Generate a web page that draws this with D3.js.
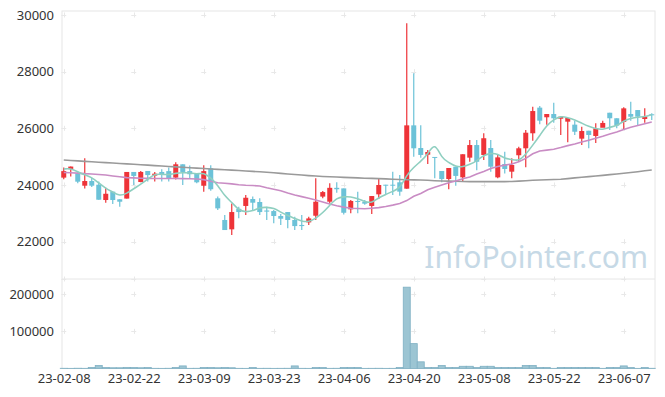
<!DOCTYPE html>
<html>
<head>
<meta charset="utf-8">
<script src="https://cdn.jsdelivr.net/npm/d3@7"></script>
<style>
  body { margin: 0; background: #fff; }
  svg { display: block; font-family: "Noto Sans", sans-serif; }
</style>
</head>
<body>
<div id="chart"></div>
<script>
// Trading days (yy-mm-dd)
const dates = [
  "23-02-08","23-02-09","23-02-10","23-02-13","23-02-14","23-02-15","23-02-16","23-02-17","23-02-20","23-02-21",
  "23-02-22","23-02-23","23-02-24","23-02-27","23-02-28","23-03-02","23-03-03","23-03-06","23-03-07","23-03-08",
  "23-03-09","23-03-10","23-03-13","23-03-14","23-03-15","23-03-16","23-03-17","23-03-20","23-03-21","23-03-22",
  "23-03-23","23-03-24","23-03-27","23-03-28","23-03-29","23-03-30","23-03-31","23-04-03","23-04-04","23-04-05",
  "23-04-06","23-04-07","23-04-10","23-04-11","23-04-12","23-04-13","23-04-14","23-04-17","23-04-18","23-04-19",
  "23-04-20","23-04-21","23-04-24","23-04-25","23-04-26","23-04-27","23-04-28","23-05-02","23-05-03","23-05-04",
  "23-05-08","23-05-09","23-05-10","23-05-11","23-05-12","23-05-15","23-05-16","23-05-17","23-05-18","23-05-19",
  "23-05-22","23-05-23","23-05-24","23-05-25","23-05-26","23-05-30","23-05-31","23-06-01","23-06-02","23-06-05",
  "23-06-07","23-06-08","23-06-09","23-06-12","23-06-13"
];

const open = [
  24260,24560,24410,23975,24140,24010,23470,23765,23495,23520,
  24460,24105,24495,24330,24460,24490,24260,24730,24490,24410,
  23975,24590,23530,22765,22435,23160,23260,23505,23400,23100,
  23080,22905,23045,22765,22590,22680,22915,23590,23410,23900,
  23880,23140,23435,23410,23260,23670,24010,24010,24095,23870,
  26105,25305,25070,24990,24495,24210,24645,24270,24965,25410,
  25060,25305,24270,24740,24470,25050,25295,25825,26730,26390,
  26505,26340,26235,26130,25635,25915,25730,26020,26550,26355,
  26225,26505,26645,26330,26495
];
const high = [
  24620,24650,24470,24940,24250,24120,23900,23770,23500,24460,
  24460,24490,24495,24460,24560,24620,24800,24730,24690,24410,
  24700,24700,23590,22940,23350,23235,23650,23590,23530,23235,
  23120,22980,23050,22880,22940,22880,24235,23790,24060,24095,
  23880,23470,23765,23470,23610,24210,24010,24470,24350,29705,
  27940,26105,25235,24990,24495,24600,24645,25085,25590,25590,
  25825,25590,25060,25175,24940,25350,25940,26765,26790,26505,
  26905,26410,26365,26270,26060,25915,26175,26270,26550,26355,
  26740,26940,26645,26705,26530
];
const low = [
  24200,24300,24060,23880,23930,23480,23375,23330,23235,23520,
  24000,24100,24120,24120,24120,24120,24190,24000,24240,24060,
  23765,23800,23120,22410,22235,22825,22940,23120,22940,22765,
  22650,22590,22470,22410,22410,22590,22765,23530,23350,23730,
  22960,23000,23000,23300,22980,23505,23645,23645,23620,23870,
  25000,24965,24740,24235,24095,23850,23975,24140,24820,24520,
  24880,24470,24235,24410,24235,24820,24625,25565,26140,26130,
  26200,25765,25505,25765,25410,25295,25480,26050,25940,26000,
  25940,26270,26080,26200,26295
];
const close = [
  24490,24650,24117,24140,23975,23480,23690,23470,23410,24460,
  24320,24460,24350,24400,24350,24240,24730,24460,24380,24095,
  24490,23850,23175,22410,23045,23045,23550,23375,23045,23060,
  22905,22810,22765,22550,22550,22820,23410,23750,23900,23850,
  23020,23435,23400,23340,23610,24000,23975,23975,23765,26105,
  25295,25060,25165,24955,24210,24600,24320,25085,25410,24820,
  25650,24645,24975,24565,24705,25295,25845,26610,26270,26505,
  26355,26410,26365,25880,25905,25765,26000,26190,26355,26095,
  26705,26410,26410,26410,26470
];
const volume = [
  600,400,700,500,3000,8000,2500,2000,2000,3000,
  2500,2000,2500,500,400,600,2500,7000,500,600,
  2500,2500,2000,2500,2000,500,400,2500,500,600,
  400,500,600,7000,500,400,2500,2500,500,600,
  2500,2500,2500,400,500,600,400,500,2500,219000,
  67000,18000,2500,2500,8000,2500,2500,6000,6000,2500,
  6000,6000,2500,2500,2500,2500,8000,8000,2500,2500,
  500,2500,2500,2500,2500,2500,2500,500,2500,2500,
  7000,2500,400,2500,600
];

// Moving averages as drawn
const ma5 = [
  24565,24590,24470,24350,24274,24072,23880,23751,23605,23702,
  23870,24024,24200,24398,24376,24360,24414,24436,24432,24381,
  24431,24255,23998,23604,23394,23105,23045,23085,23212,23215,
  23187,23039,22917,22818,22716,22699,22819,23016,23286,23546,
  23586,23591,23521,23409,23361,23557,23665,23780,23865,24364,
  24623,24840,25078,25516,24937,24798,24650,24634,24725,24847,
  25057,25122,25100,24931,24908,24837,25077,25404,25745,26105,
  26317,26430,26381,26303,26183,26065,25983,25948,26043,26081,
  26269,26351,26395,26406,26481
];
const ma20 = [
  24440,24430,24420,24400,24390,24370,24350,24320,24290,24260,
  24250,24240,24235,24230,24230,24230,24230,24225,24220,24210,
  24190,24130,24080,24060,24040,24010,23990,23980,23965,23900,
  23850,23800,23720,23650,23590,23530,23470,23400,23330,23270,
  23220,23180,23170,23160,23180,23200,23240,23290,23350,23450,
  23600,23700,23830,23920,24000,24080,24140,24220,24280,24390,
  24480,24580,24650,24700,24740,24820,24940,25100,25200,25230,
  25260,25320,25390,25450,25520,25580,25650,25720,25800,25870,
  25960,26040,26100,26160,26220
];
const ma120 = [
  24880,24865,24850,24835,24820,24805,24790,24775,24760,24745,
  24730,24715,24700,24685,24670,24655,24640,24625,24610,24595,
  24580,24565,24550,24540,24525,24510,24495,24480,24465,24450,
  24430,24410,24390,24370,24350,24330,24315,24300,24290,24280,
  24270,24260,24250,24240,24235,24225,24215,24205,24195,24185,
  24180,24175,24165,24150,24140,24135,24130,24125,24120,24120,
  24120,24120,24120,24120,24125,24135,24150,24165,24175,24185,
  24195,24205,24225,24250,24275,24295,24318,24340,24365,24390,
  24415,24440,24470,24500,24530
];

const priceTicks = [22000, 24000, 26000, 28000, 30000];
const volTicks = [100000, 200000];
const dateTicks = [0, 10, 20, 30, 40, 50, 60, 70, 80];

// LAYOUT ----------------------------------------
const W = 665, H = 397;
const left = 62, right = 655;
const pTop = 11, pBottom = 279, vBottom = 368.5;

const upColor = "#ee3338", downColor = "#6cc2d8";

const x = d3.scaleLinear().domain([0, dates.length - 1]).range([63.75, 651.75]);
const y = d3.scaleLinear().domain([20682, 30141]).range([pBottom, pTop]);
const yv = d3.scaleLinear().domain([0, 241000]).range([vBottom, pBottom]);

const svg = d3.select("#chart").append("svg")
    .attr("width", W).attr("height", H);

// frame
const frame = svg.append("g").attr("stroke", "#e6e6e6").attr("fill", "none");
frame.append("rect").attr("x", left).attr("y", pTop).attr("width", right - left).attr("height", vBottom - pTop);
frame.append("line").attr("x1", left).attr("x2", right).attr("y1", pBottom).attr("y2", pBottom);

// grid crosses
const gridX = dateTicks.map(i => x(i));
const crossY = priceTicks.map(v => y(v)).concat(volTicks.map(v => yv(v)), [pBottom]);
const grid = svg.append("g").attr("stroke", "#e8e8e8").attr("stroke-width", 1);
crossY.forEach(cy => {
    gridX.forEach(cx => {
        grid.append("line").attr("x1", cx - 2.5).attr("x2", cx + 2.5).attr("y1", Math.round(cy) + 0.5).attr("y2", Math.round(cy) + 0.5);
        grid.append("line").attr("x1", Math.round(cx) + 0.5).attr("x2", Math.round(cx) + 0.5).attr("y1", cy - 2.5).attr("y2", cy + 2.5);
    });
});

// watermark
svg.append("text")
    .attr("x", 648).attr("y", 268)
    .attr("text-anchor", "end")
    .attr("font-size", 30)
    .attr("fill", "#c6d9e6")
    .text("InfoPointer.com");

// volume bars
svg.append("g").selectAll("rect")
    .data(volume)
    .join("rect")
    .attr("x", (d, i) => x(i) - 3.5)
    .attr("width", 7)
    .attr("y", d => yv(d))
    .attr("height", d => vBottom - yv(d))
    .attr("fill", "#9cc5d3")
    .attr("stroke", "#7fb0c3")
    .attr("stroke-width", 0.8);

// candles
const candles = svg.append("g").selectAll("g")
    .data(dates.map((d, i) => ({i, o: open[i], h: high[i], l: low[i], c: close[i]})))
    .join("g")
    .attr("fill", d => d.c >= d.o ? upColor : downColor)
    .attr("stroke", d => d.c >= d.o ? upColor : downColor);

candles.append("line")
    .attr("x1", d => x(d.i)).attr("x2", d => x(d.i))
    .attr("y1", d => y(d.h)).attr("y2", d => y(d.l))
    .attr("stroke-width", 1.2);

candles.append("rect")
    .attr("x", d => x(d.i) - 2.5)
    .attr("width", 5)
    .attr("y", d => y(Math.max(d.o, d.c)))
    .attr("height", d => Math.max(1, Math.abs(y(d.o) - y(d.c))))
    .attr("stroke", "none");

// moving averages
const lineOf = (curve) => d3.line().x((d, i) => x(i)).y(d => y(d)).curve(curve);
svg.append("path").datum(ma120)
    .attr("d", lineOf(d3.curveLinear))
    .attr("fill", "none").attr("stroke", "#9a9a9a").attr("stroke-width", 1.6);
svg.append("path").datum(ma20)
    .attr("d", lineOf(d3.curveLinear))
    .attr("fill", "none").attr("stroke", "#c98cc4").attr("stroke-width", 1.6);
svg.append("path").datum(ma5)
    .attr("d", lineOf(d3.curveBasis))
    .attr("fill", "none").attr("stroke", "#8fcfc0").attr("stroke-width", 1.6);

// axes
const styleAxis = g => {
    g.select(".domain").remove();
    g.selectAll("text").attr("fill", "#333").attr("font-size", 13).attr("font-family", "Noto Sans, sans-serif");
};
svg.append("g")
    .attr("transform", `translate(${left},0)`)
    .call(d3.axisLeft(y).tickValues(priceTicks).tickFormat(d3.format("d")).tickSize(0).tickPadding(8))
    .call(styleAxis);
svg.append("g")
    .attr("transform", `translate(${left},0)`)
    .call(d3.axisLeft(yv).tickValues(volTicks).tickFormat(d3.format("d")).tickSize(0).tickPadding(8))
    .call(styleAxis);
svg.append("g")
    .attr("transform", `translate(0,${vBottom})`)
    .call(d3.axisBottom(x).tickValues(dateTicks).tickFormat(i => dates[i]).tickSize(0).tickPadding(5))
    .call(styleAxis);
</script>
</body>
</html>
